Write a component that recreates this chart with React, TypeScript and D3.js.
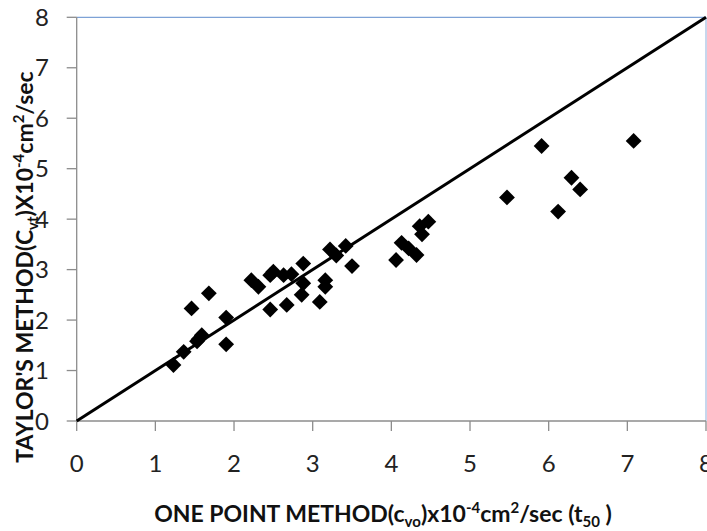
import React from "react";
import * as d3 from "d3";

const xTicks = [0, 1, 2, 3, 4, 5, 6, 7, 8];
const yTicks = [0, 1, 2, 3, 4, 5, 6, 7, 8];

const onePoint = [
  1.23, 1.36, 1.46, 1.53, 1.55, 1.59, 1.68, 1.9, 1.9,
  2.22, 2.31, 2.46, 2.5, 2.46, 2.63, 2.73, 2.67, 2.88, 2.88, 2.86,
  3.16, 3.16, 3.09, 3.22, 3.3, 3.42, 3.5,
  4.06, 4.13, 4.22, 4.32, 4.36, 4.39, 4.47,
  5.47, 5.91, 6.12, 6.29, 6.4, 7.08,
];
const taylor = [
  1.11, 1.37, 2.23, 1.58, 1.62, 1.7, 2.53, 2.05, 1.52,
  2.79, 2.66, 2.89, 2.96, 2.21, 2.89, 2.91, 2.3, 3.12, 2.73, 2.5,
  2.79, 2.66, 2.36, 3.4, 3.28, 3.47, 3.07,
  3.19, 3.53, 3.42, 3.29, 3.86, 3.7, 3.95,
  4.43, 5.45, 4.15, 4.82, 4.59, 5.55,
];
const refLine = [0, 8];

export default function App() {
  const left = 76.7, right = 706, top = 17.3, bottom = 421;
  const x = d3.scaleLinear().domain([0, 8]).range([left, right]);
  const y = d3.scaleLinear().domain([0, 8]).range([bottom, top]);
  const diamond = d3.symbol(d3.symbolSquare, 125)()!;
  const line = d3
    .line<number>()
    .x((d) => x(d))
    .y((d) => y(d));
  const tickFont = "Lato, 'Open Sans', sans-serif";
  return (
    <svg
      width={707}
      height={531}
      style={{ position: "absolute", left: 0, top: 0, background: "#fff" }}
    >
      {/* frame */}
      <line x1={left} x2={right} y1={top} y2={top} stroke="#7ea2d6" strokeWidth={1.3} />
      <line x1={right} x2={right} y1={top} y2={bottom} stroke="#a9c2e3" strokeWidth={1.3} />
      <line x1={left} x2={left} y1={top} y2={bottom} stroke="#8c8c8c" strokeWidth={1.3} />
      <line x1={left} x2={right} y1={bottom} y2={bottom} stroke="#8c8c8c" strokeWidth={1.3} />
      {yTicks.map((t) => (
        <g key={"y" + t}>
          <line x1={left - 10} x2={left} y1={y(t)} y2={y(t)} stroke="#8c8c8c" strokeWidth={1.3} />
          <text
            x={49}
            y={y(t)}
            dy="0.36em"
            textAnchor="end"
            fontFamily={tickFont}
            fontSize={24}
            fill="#222"
          >
            {t}
          </text>
        </g>
      ))}
      {xTicks.map((t) => (
        <g key={"x" + t}>
          <line x1={x(t)} x2={x(t)} y1={bottom} y2={bottom + 10} stroke="#8c8c8c" strokeWidth={1.3} />
          <text
            x={x(t)}
            y={472}
            textAnchor="middle"
            fontFamily={tickFont}
            fontSize={24}
            fill="#222"
          >
            {t}
          </text>
        </g>
      ))}
      <path d={line(refLine) || ""} stroke="#000" strokeWidth={3} fill="none" />
      {onePoint.map((v, i) => (
        <path
          key={i}
          d={diamond}
          transform={`translate(${x(v)},${y(taylor[i])}) rotate(45)`}
          fill="#000"
        />
      ))}
      {/* x title */}
      <text
        x={383}
        y={522}
        textAnchor="middle"
        fontFamily={tickFont}
        fontWeight="bold"
        fontSize={23}
        fill="#111"
      >
        ONE POINT METHOD(c
        <tspan fontSize={15} dy={5}>vo</tspan>
        <tspan dy={-5}>)x10</tspan>
        <tspan fontSize={15} dy={-9}>-4</tspan>
        <tspan dy={9}>cm</tspan>
        <tspan fontSize={15} dy={-9}>2</tspan>
        <tspan dy={9}>/sec (t</tspan>
        <tspan fontSize={15} dy={5}>50</tspan>
        <tspan dy={-5}> )</tspan>
      </text>
      {/* y title */}
      <text
        transform="translate(33,267) rotate(-90)"
        textAnchor="middle"
        fontFamily={tickFont}
        fontWeight="bold"
        fontSize={23}
        fill="#111"
      >
        TAYLOR'S METHOD(C
        <tspan fontSize={15} dy={5}>vt</tspan>
        <tspan dy={-5}>)X10</tspan>
        <tspan fontSize={15} dy={-9}>-4</tspan>
        <tspan dy={9}>cm</tspan>
        <tspan fontSize={15} dy={-9}>2</tspan>
        <tspan dy={9}>/sec</tspan>
      </text>
    </svg>
  );
}
